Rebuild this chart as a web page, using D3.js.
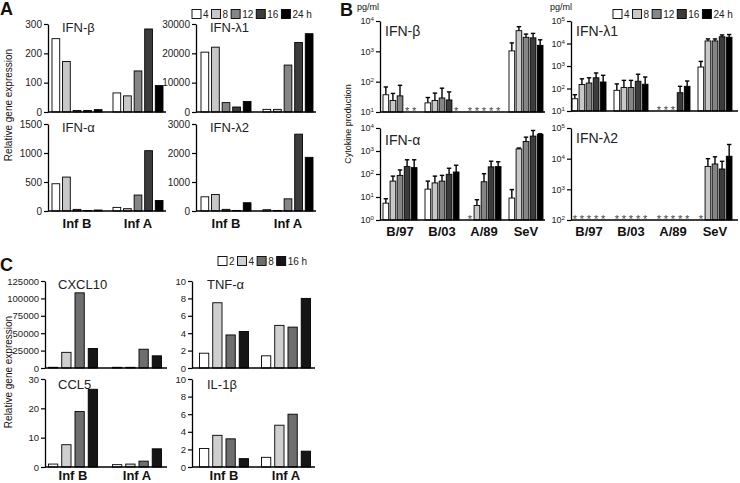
<!DOCTYPE html>
<html><head><meta charset="utf-8">
<script src="https://cdn.jsdelivr.net/npm/d3@7"></script>
<style>body{margin:0;background:#fff}svg{display:block}</style>
</head><body><svg id="c" width="740" height="483"></svg>
<script>
const FONT = "'Liberation Sans', Arial, Helvetica, sans-serif";

// ---------- Panel A data ----------
const groupsA = ["Inf B", "Inf A"];
const timesA = ["4", "8", "12", "16", "24 h"];
const aIFNb  = [[250, 172, 5, 5, 8], [65, 55, 140, 283, 90]];
const aIFNl1 = [[20400, 22100, 3200, 1700, 3600], [900, 900, 16000, 23700, 26700]];
const aIFNa  = [[470, 585, 28, 8, 17], [62, 40, 275, 1040, 182]];
const aIFNl2 = [[490, 570, 57, 20, 285], [45, 20, 420, 2650, 1850]];
const ticksA_b = [0, 100, 200, 300];
const ticksA_l1 = [0, 10000, 20000, 30000];
const ticksA_a = [0, 500, 1000, 1500];
const ticksA_l2 = [0, 1000, 2000, 3000];

// ---------- Panel B data (pg/ml, null = not detected "*") ----------
const groupsB = ["B/97", "B/03", "A/89", "SeV"];
const bIFNb    = [[37, 24, 34, null, null], [20, 24, 29, 25, null], [null, null, null, null, null], [1035, 4800, 2900, 2780, 1580]];
const bIFNbErr = [[67, 41, 76, null, null], [30, 42, 61, 46, null], [null, null, null, null, null], [1900, 6500, 3700, 3900, 2400]];
const bIFNa    = [[5.4, 49, 87, 210, 190], [22, 41, 49, 97, 122], [null, 4.3, 46, 204, 210], [9, 1230, 2600, 4450, 5300]];
const bIFNaErr = [[8.4, 81, 150, 415, 415], [49, 81, 87, 178, 240], [null, 7.6, 103, 360, 340], [21, 1350, 4000, 7800, 5600]];
const bIFNl1    = [[35, 150, 175, 300, 195], [83, 110, 110, 210, 155], [null, null, null, 65, 125], [900, 13000, 13000, 20000, 19000]];
const bIFNl1Err = [[53, 270, 300, 490, 385], [160, 230, 230, 430, 325], [null, null, null, 125, 215], [1600, 16000, 16000, 24000, 25000]];
const bIFNl2    = [[null, null, null, null, null], [null, null, null, null, null], [null, null, null, null, null], [null, 5600, 6700, 4600, 12000]];
const bIFNl2Err = [[null, null, null, null, null], [null, null, null, null, null], [null, null, null, null, null], [null, 10000, 11500, 8200, 29000]];
const ticksB_b = [10, 100, 1000, 10000];
const ticksB_a = [1, 10, 100, 1000, 10000];
const ticksB_l1 = [10, 100, 1000, 10000, 100000];
const ticksB_l2 = [100, 1000, 10000, 100000];

// ---------- Panel C data ----------
const groupsC = ["Inf B", "Inf A"];
const timesC = ["2", "4", "8", "16 h"];
const cCXCL10 = [[1000, 22500, 108000, 28000], [1000, 1000, 27000, 17500]];
const cCCL5   = [[1.0, 7.6, 18.9, 26.5], [0.8, 1.0, 2.0, 6.2]];
const cTNFa   = [[1.7, 7.5, 3.8, 4.2], [1.4, 4.9, 4.7, 8.0]];
const cIL1b   = [[2.1, 3.6, 3.2, 0.95], [1.1, 4.75, 6.0, 1.8]];
const ticksC_cx = [0, 25000, 50000, 75000, 100000, 125000];
const ticksC_cc = [0, 10, 20, 30];
const ticksC_10 = [0, 2, 4, 6, 8, 10];

const colAB = ["#ffffff", "#c8c8c8", "#858585", "#3c3c3c", "#000000"];
const colC  = ["#ffffff", "#cfcfcf", "#6e6e6e", "#151515"];

const svg = d3.select("#c").attr("font-family", FONT);
svg.append("rect").attr("width", 740).attr("height", 483).attr("fill", "#fff");

function drawPanel(o) {
  const g = svg.append("g");
  const x = d3.scaleBand().domain(o.groups).range(o.band);
  const bw = x.bandwidth();
  const n = o.values[0].length;
  const xi = d3.scaleBand().domain(d3.range(n)).range([bw / 2 - o.span / 2, bw / 2 + o.span / 2]).paddingInner(o.pad);
  const y = (o.log ? d3.scaleLog() : d3.scaleLinear()).domain(o.domain).range([o.yBot, o.yTop]);

  o.values.forEach((vals, gi) => {
    vals.forEach((v, si) => {
      const bx = x(o.groups[gi]) + xi(si);
      const cx = bx + xi.bandwidth() / 2;
      if (v == null) {
        g.append("text").attr("x", cx).attr("y", o.yBot + 3).attr("text-anchor", "middle")
          .attr("font-size", 11).attr("fill", "#444").text("*");
        return;
      }
      if (o.errs && o.errs[gi][si] != null) {
        const ey = y(o.errs[gi][si]);
        g.append("line").attr("x1", cx).attr("x2", cx).attr("y1", y(v)).attr("y2", ey)
          .attr("stroke", "#000").attr("stroke-width", 1.4);
        g.append("line").attr("x1", cx - 2.2).attr("x2", cx + 2.2).attr("y1", ey).attr("y2", ey)
          .attr("stroke", "#000").attr("stroke-width", 1.4);
      }
      g.append("rect").attr("x", bx).attr("y", y(v)).attr("width", xi.bandwidth())
        .attr("height", o.yBot - y(v)).attr("fill", o.colors[si])
        .attr("stroke", "#000").attr("stroke-width", 0.9);
    });
  });

  const ax = d3.axisLeft(y).tickValues(o.ticks).tickSizeInner(4).tickSizeOuter(0).tickPadding(2);
  if (!o.log) ax.tickFormat(d3.format("d"));
  const ag = g.append("g").attr("transform", `translate(${o.x0},0)`).call(ax)
    .attr("font-family", FONT);
  ag.select(".domain").attr("stroke", "#000").attr("stroke-width", 1.3);
  ag.selectAll(".tick line").attr("stroke", "#000").attr("stroke-width", 1.2);
  ag.selectAll(".tick text").attr("font-size", o.tickFont).attr("fill", "#222");
  if (o.log) {
    ag.selectAll(".tick text").each(function (d) {
      const t = d3.select(this);
      t.text("10");
      t.append("tspan").attr("dy", "-0.5em").attr("font-size", "0.68em").text(Math.round(Math.log10(d)));
    });
  }
  g.append("line").attr("x1", o.x0).attr("x2", o.x1).attr("y1", o.yBot).attr("y2", o.yBot)
    .attr("stroke", "#000").attr("stroke-width", 1.3);

  if (o.catY) {
    o.groups.forEach(gr => {
      g.append("text").attr("x", x(gr) + bw / 2).attr("y", o.catY).attr("text-anchor", "middle")
        .attr("font-size", 13).attr("font-weight", "bold").attr("fill", "#111").text(gr);
    });
  }
  g.append("text").attr("x", o.titleX).attr("y", o.titleY).attr("font-size", o.titleSize)
    .attr("fill", "#222").text(o.title);
}

function legend(x0, yc, labels, colors) {
  let cx = x0;
  labels.forEach((l, i) => {
    svg.append("rect").attr("x", cx).attr("y", yc - 4.5).attr("width", 9).attr("height", 9)
      .attr("fill", colors[i]).attr("stroke", "#000").attr("stroke-width", 0.9);
    const t = svg.append("text").attr("x", cx + 11).attr("y", yc + 3.6).attr("font-size", 10)
      .attr("fill", "#222").text(l);
    cx += 11 + t.node().getComputedTextLength() + 3;
  });
}

function label(x, y, txt, size, weight, rot) {
  const t = svg.append("text").attr("font-size", size).attr("fill", "#111").text(txt);
  if (weight) t.attr("font-weight", weight);
  if (rot) t.attr("transform", `translate(${x},${y}) rotate(-90)`).attr("text-anchor", "middle");
  else t.attr("x", x).attr("y", y);
  return t;
}

// ---------- Panel A ----------
const baseA = { groups: groupsA, span: 50, pad: 0.27, colors: colAB, tickFont: 10, titleSize: 13 };
drawPanel({ ...baseA, values: aIFNb, domain: [0, 300], ticks: ticksA_b, x0: 48, x1: 166, band: [46.5, 168.5], yTop: 24, yBot: 112, title: "IFN-β", titleX: 62, titleY: 32 });
drawPanel({ ...baseA, values: aIFNl1, domain: [0, 30000], ticks: ticksA_l1, x0: 196, x1: 316, band: [195, 319], yTop: 24, yBot: 112, title: "IFN-λ1", titleX: 210, titleY: 32 });
drawPanel({ ...baseA, values: aIFNa, domain: [0, 1500], ticks: ticksA_a, x0: 48, x1: 166, band: [46.5, 168.5], yTop: 124, yBot: 211, title: "IFN-α", titleX: 62, titleY: 132, catY: 228 });
drawPanel({ ...baseA, values: aIFNl2, domain: [0, 3000], ticks: ticksA_l2, x0: 196, x1: 316, band: [195, 319], yTop: 124, yBot: 211, title: "IFN-λ2", titleX: 210, titleY: 132, catY: 228 });
legend(192, 14, timesA, colAB);
label(0, 15, "A", 18, "bold");
label(12, 105, "Relative gene expression", 10, null, true);

// ---------- Panel B ----------
const baseB = { groups: groupsB, span: 34, pad: 0.2, colors: colAB, tickFont: 9, titleSize: 14, log: true };
drawPanel({ ...baseB, values: bIFNb, errs: bIFNbErr, domain: [10, 10000], ticks: ticksB_b, x0: 380, x1: 545, band: [379, 547], yTop: 21, yBot: 112, title: "IFN-β", titleX: 385, titleY: 36 });
drawPanel({ ...baseB, values: bIFNl1, errs: bIFNl1Err, domain: [10, 100000], ticks: ticksB_l1, x0: 571, x1: 738, band: [568, 736], yTop: 21, yBot: 111, title: "IFN-λ1", titleX: 576, titleY: 36 });
drawPanel({ ...baseB, values: bIFNa, errs: bIFNaErr, domain: [1, 10000], ticks: ticksB_a, x0: 380, x1: 545, band: [379, 547], yTop: 128, yBot: 220, title: "IFN-α", titleX: 385, titleY: 145, catY: 236 });
drawPanel({ ...baseB, values: bIFNl2, errs: bIFNl2Err, domain: [100, 100000], ticks: ticksB_l2, x0: 571, x1: 738, band: [568, 736], yTop: 128, yBot: 220, title: "IFN-λ2", titleX: 576, titleY: 143, catY: 236 });
legend(613, 14, timesA, colAB);
label(340, 16, "B", 18, "bold");
label(357, 10, "pg/ml", 9);
label(550, 10, "pg/ml", 9);
label(351, 124, "Cytokine production", 9, null, true);

// ---------- Panel C ----------
const baseC = { groups: groupsC, span: 49, pad: 0.3, colors: colC, tickFont: 9.5, titleSize: 13 };
drawPanel({ ...baseC, values: cCXCL10, domain: [0, 125000], ticks: ticksC_cx, x0: 45, x1: 167, band: [41, 169], yTop: 281, yBot: 368, title: "CXCL10", titleX: 58, titleY: 289 });
drawPanel({ ...baseC, values: cTNFa, domain: [0, 10], ticks: ticksC_10, x0: 192, x1: 315, band: [193, 317], yTop: 281, yBot: 368, title: "TNF-α", titleX: 207, titleY: 289 });
drawPanel({ ...baseC, values: cCCL5, domain: [0, 30], ticks: ticksC_cc, x0: 45, x1: 167, band: [41, 169], yTop: 379, yBot: 467, title: "CCL5", titleX: 58, titleY: 389, catY: 480 });
drawPanel({ ...baseC, values: cIL1b, domain: [0, 10], ticks: ticksC_10, x0: 192, x1: 315, band: [193, 317], yTop: 379, yBot: 467, title: "IL-1β", titleX: 207, titleY: 389, catY: 480 });
legend(218, 261, timesC, colC);
label(0, 271, "C", 18, "bold");
label(12, 372, "Relative gene expression", 10, null, true);
</script></body></html>
